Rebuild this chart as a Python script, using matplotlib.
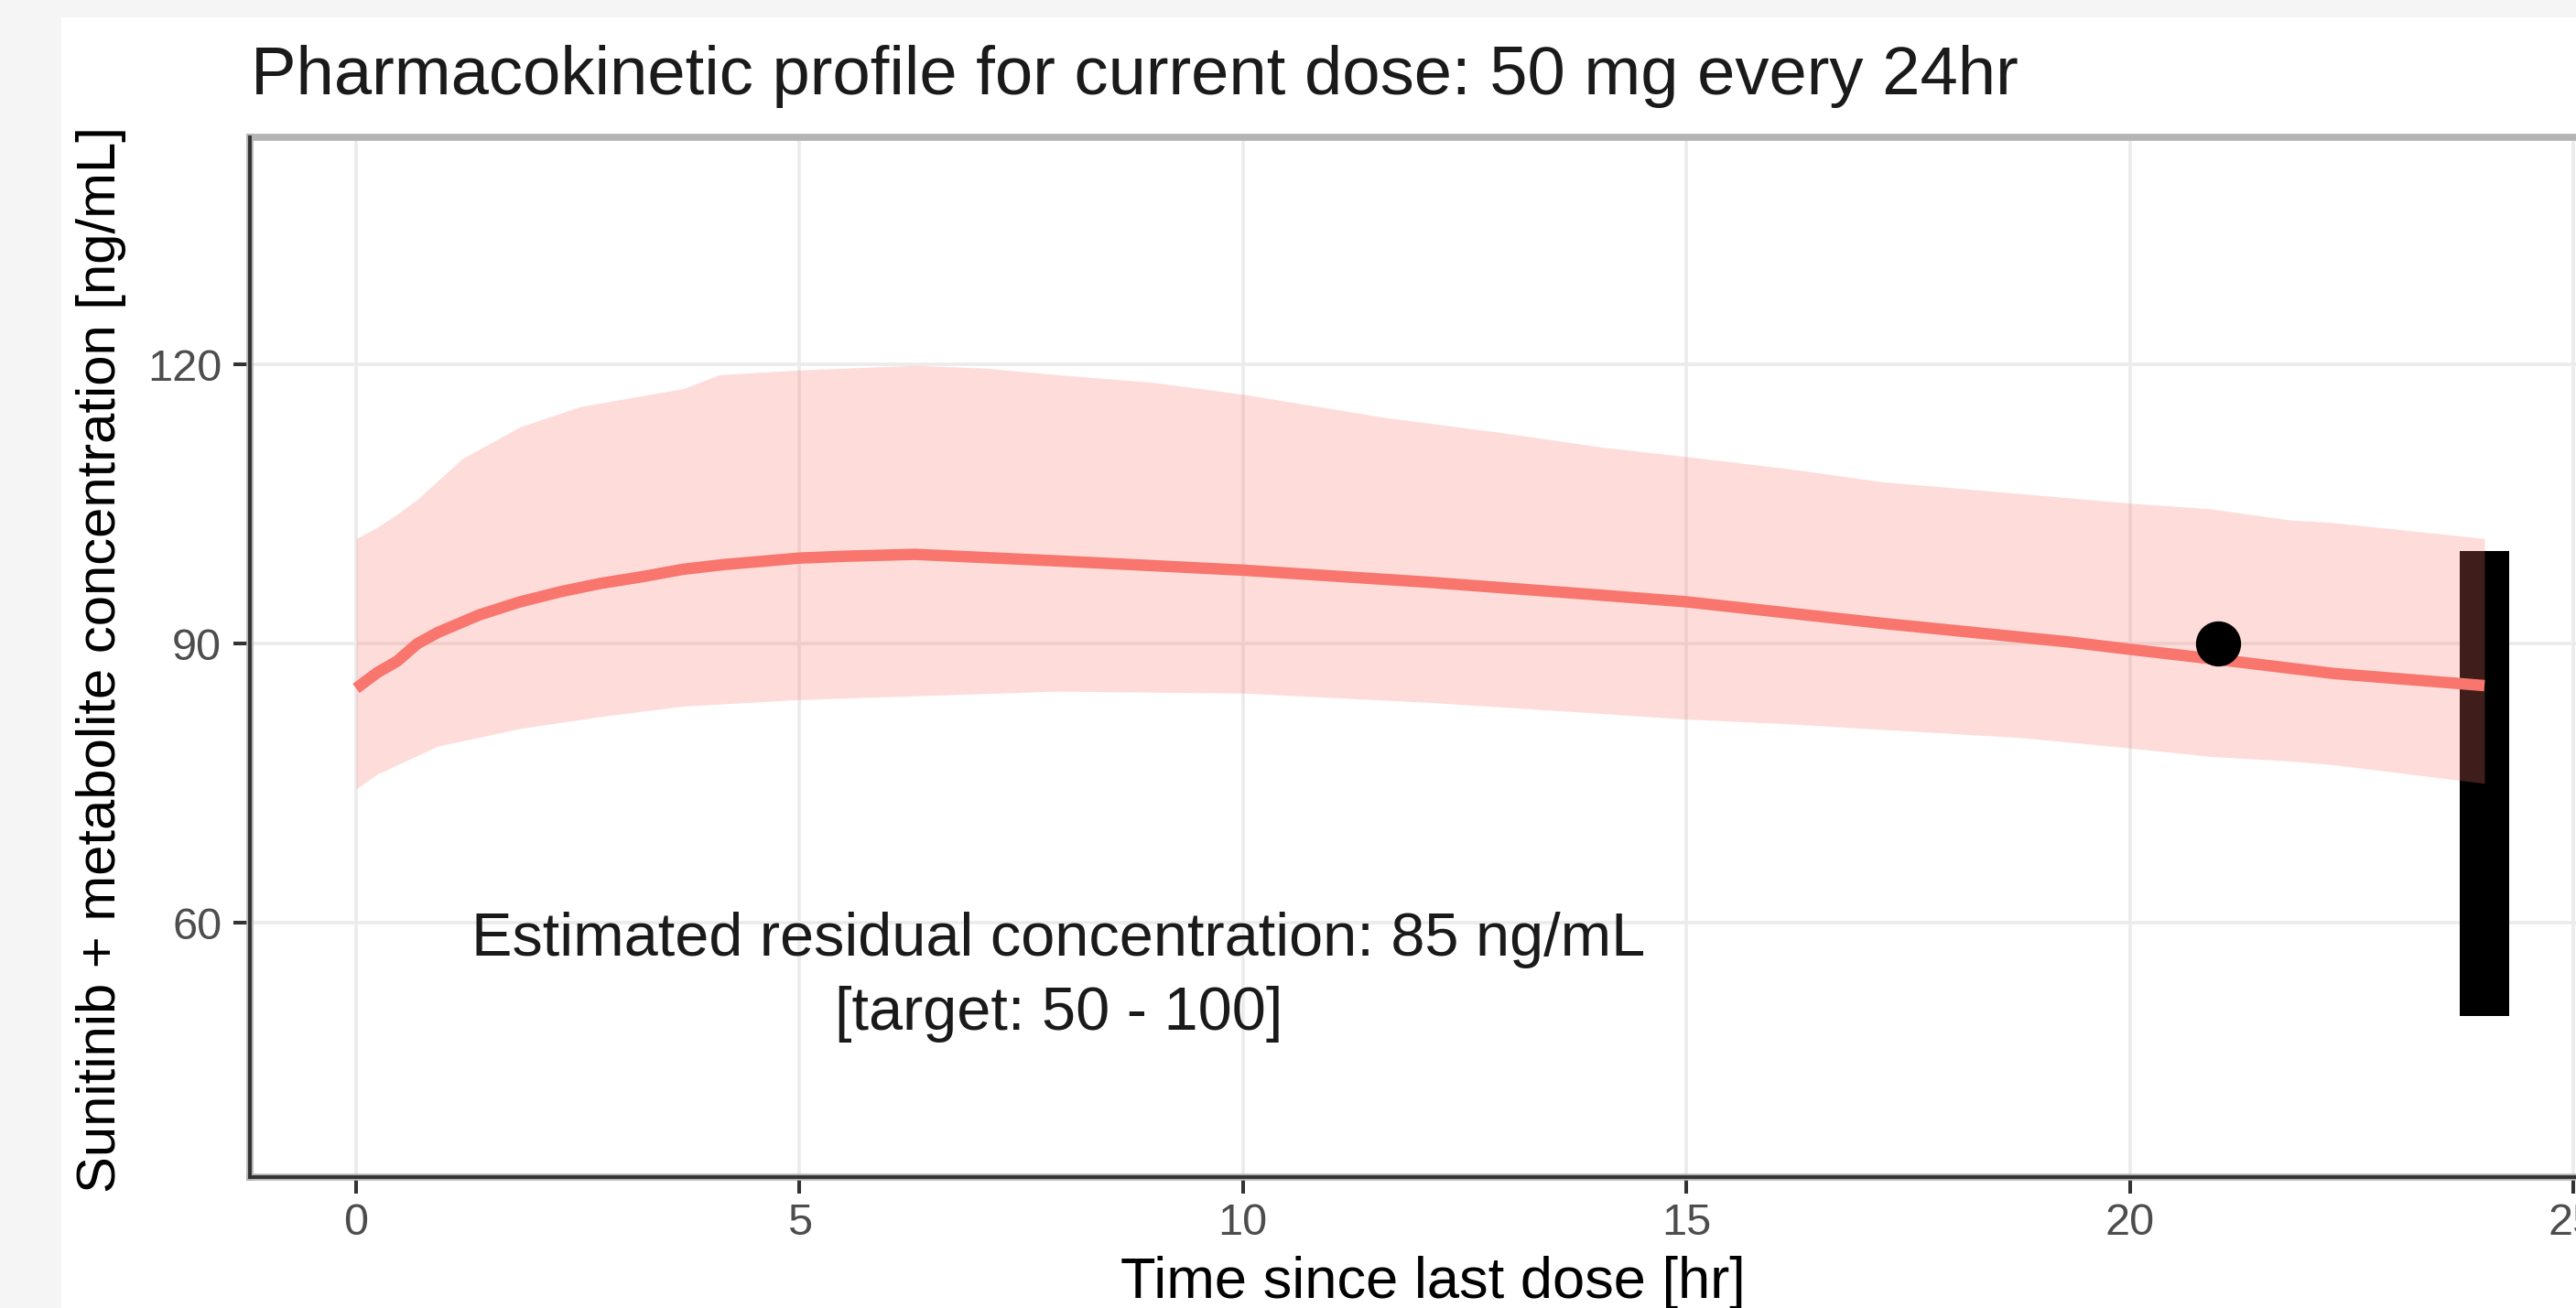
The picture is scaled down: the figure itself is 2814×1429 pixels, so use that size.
import numpy as np
import matplotlib
matplotlib.use("Agg")
import matplotlib.pyplot as plt
from matplotlib.patches import Rectangle

plt.rcParams['font.family'] = ['Liberation Sans', 'DejaVu Sans']

# simulated profile (time in hr, conc in ng/mL)
t_median = [0, 0.24, 0.46, 0.69, 0.92, 1.39, 1.85, 2.31, 2.77, 3.23, 3.69,
            4.15, 5.0, 5.53, 6.3, 7.9, 10, 12.1, 14.06, 15, 17.2, 19.3, 20,
            21, 22.3, 24]
c_median = [85.2, 86.9, 88.1, 90.0, 91.2, 93.1, 94.5, 95.6, 96.5, 97.2, 98.0,
            98.5, 99.2, 99.4, 99.6, 98.9, 97.9, 96.6, 95.2, 94.5, 92.2, 90.2,
            89.4, 88.3, 86.8, 85.5]

t_upper = [0, 0.24, 0.46, 0.69, 1.2, 1.85, 2.54, 3.69, 4.1, 5.0, 6.3, 7.1,
           7.9, 8.96, 10, 11.6, 12.9, 14.06, 15, 16.15, 17.2, 18.8, 20, 20.9,
           21.8, 22.3, 24]
c_upper = [101.3, 102.5, 103.9, 105.5, 109.9, 113.3, 115.5, 117.4, 118.9,
           119.4, 119.9, 119.6, 118.9, 118.1, 116.8, 114.3, 112.7, 111.1,
           110.1, 108.8, 107.4, 106.1, 105.1, 104.5, 103.3, 103.0, 101.3]

t_lower = [0, 0.24, 0.92, 1.85, 2.77, 3.69, 5.0, 6.3, 7.9, 10, 12.1, 14.06,
           15, 16.15, 17.2, 18.8, 20, 20.9, 21.8, 22.3, 24]
c_lower = [74.4, 76.0, 79.0, 80.9, 82.2, 83.3, 84.0, 84.4, 84.9, 84.7, 83.7,
           82.5, 81.9, 81.4, 80.8, 79.9, 78.8, 77.9, 77.4, 77.0, 75.0]

# observed level and target window
obs_time = [21]
obs_conc = [90]
tau = 24
target_low, target_high = 50, 100
dose_mg = 50
trough = 85

t_grid = np.array(sorted(set(t_upper) | set(t_lower)))
up = np.interp(t_grid, t_upper, c_upper)
lo = np.interp(t_grid, t_lower, c_lower)

fig = plt.figure(figsize=(28.14, 14.29), dpi=100)
fig.patch.set_facecolor('#f5f5f5')
W, H = 2814.0, 1429.0
fig.patches.append(Rectangle((67 / W, 0), 1, 1 - 19 / H, transform=fig.transFigure,
                             facecolor='white', edgecolor='none', zorder=-5))

ax = fig.add_axes([272.75 / W, 1 - 1286 / H, 2557.5 / W, 1136 / H])
ax.set_facecolor('white')

ax.bar([tau], [target_high - target_low], bottom=target_low, width=0.56,
       color='black', zorder=2)
ax.fill_between(t_grid, lo, up, color='#F8766D', alpha=0.25, lw=0, zorder=3)
ax.plot(t_median, c_median, color='#F8766D', lw=9, solid_capstyle='butt',
        solid_joinstyle='round', zorder=4)
ax.plot(obs_time, obs_conc, 'o', color='black', markersize=34.5, zorder=5)

ax.text(7.92, 54.2,
        "Estimated residual concentration: %d ng/mL\n[target: %d - %d]" % (trough, target_low, target_high),
        ha='center', va='center', fontsize=48, color='#1a1a1a', linespacing=1.4, zorder=6)

ax.set_xlim(-1.2, 25.2)
ax.set_ylim(32.7, 144.4)
ax.set_xticks([0, 5, 10, 15, 20, 25])
ax.set_yticks([60, 90, 120])
ax.grid(True, color='#ebebeb', lw=2.6, zorder=0)
ax.set_axisbelow(True)

ax.tick_params(axis='both', labelsize=35, labelcolor='#4d4d4d', color='#333333',
               width=2.9, length=13)
ax.tick_params(axis='x', pad=7)
ax.tick_params(axis='y', pad=9)

for s in ax.spines.values():
    s.set_color('#b4b4b4')
    s.set_linewidth(5.5)
ax.plot([0, 0], [0, 1], transform=ax.transAxes, color='#333333', lw=2.8,
        clip_on=False, zorder=7)
ax.plot([0, 1], [0, 0], transform=ax.transAxes, color='#333333', lw=2.8,
        clip_on=False, zorder=7)

fig.text(274 / W, 1 - 103 / H,
         "Pharmacokinetic profile for current dose: %d mg every %dhr" % (dose_mg, tau),
         fontsize=53.5, color='#1a1a1a', ha='left', va='baseline')
fig.text(1565 / W, 1 - 1418 / H, "Time since last dose [hr]", fontsize=45.5,
         color='black', ha='center', va='baseline')
fig.text(111 / W, 1 - 721 / H, "Sunitinib + metabolite concentration [ng/mL]",
         fontsize=43, color='black', rotation=90, ha='center', va='center')

fig.savefig('out.png', dpi=100, facecolor=fig.get_facecolor())
